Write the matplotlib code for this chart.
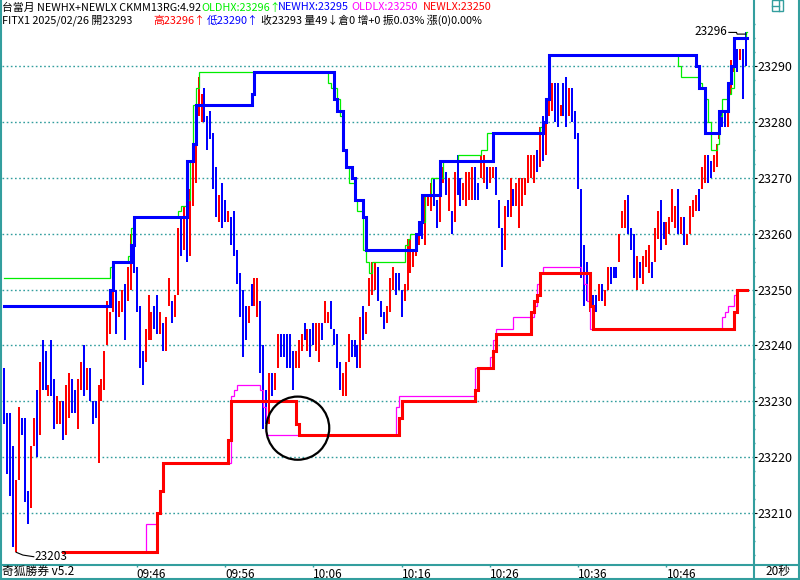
import matplotlib
matplotlib.use("Agg")
import matplotlib.pyplot as plt
from matplotlib.patches import Ellipse, Rectangle
from matplotlib.lines import Line2D

plt.rcParams['font.family'] = ['Noto Sans CJK TC', 'DejaVu Sans']

# 20秒K, index 0 = 09:31:00
bar_hi = [23236, 23228, 23228, 23222, 23216, 23229, 23227, 23227, 23214, 23222,
          23227, 23232, 23237, 23241, 23239, 23233, 23241, 23234, 23231, 23230,
          23230, 23233, 23235, 23234, 23232, 23234, 23237, 23240, 23236, 23236,
          23230, 23230, 23233, 23234, 23239, 23248, 23246, 23252, 23250, 23248,
          23250, 23251, 23254, 23260, 23260, 23254, 23247, 23239, 23243, 23249,
          23246, 23247, 23249, 23246, 23244, 23245, 23252, 23248, 23249, 23261,
          23263, 23265, 23263, 23268, 23274, 23280, 23288, 23285, 23286, 23281,
          23282, 23278, 23272, 23267, 23269, 23266, 23264, 23263, 23264, 23257,
          23253, 23250, 23247, 23247, 23251, 23252, 23252, 23248, 23240, 23232,
          23235, 23235, 23235, 23242, 23242, 23242, 23242, 23242, 23239, 23239,
          23241, 23242, 23244, 23243, 23243, 23244, 23244, 23244, 23244, 23248,
          23246, 23248, 23243, 23242, 23237, 23235, 23237, 23242, 23241, 23241,
          23240, 23245, 23247, 23246, 23252, 23255, 23255, 23254, 23248, 23246,
          23247, 23252, 23254, 23253, 23253, 23250, 23251, 23259, 23259, 23257,
          23260, 23262, 23263, 23267, 23267, 23269, 23270, 23266, 23271, 23272,
          23271, 23270, 23264, 23271, 23274, 23270, 23269, 23271, 23271, 23272,
          23272, 23269, 23274, 23274, 23272, 23272, 23272, 23272, 23266, 23261,
          23265, 23266, 23270, 23268, 23269, 23270, 23270, 23270, 23274, 23274,
          23274, 23275, 23279, 23281, 23284, 23289, 23287, 23287, 23287, 23283,
          23287, 23288, 23286, 23286, 23282, 23278, 23268, 23258, 23255, 23252,
          23249, 23249, 23251, 23251, 23250, 23254, 23254, 23254, 23254, 23260,
          23264, 23266, 23267, 23261, 23260, 23256, 23255, 23256, 23257, 23258,
          23255, 23261, 23264, 23266, 23262, 23262, 23263, 23268, 23265, 23268,
          23263, 23263, 23260, 23265, 23266, 23267, 23268, 23272, 23274, 23274,
          23273, 23274, 23276, 23281, 23282, 23282, 23284, 23291, 23293, 23293,
          23293, 23293, 23296]
bar_lo = [23226, 23217, 23213, 23204, 23203, 23216, 23224, 23212, 23208, 23211,
          23222, 23220, 23224, 23232, 23232, 23231, 23231, 23225, 23226, 23226,
          23223, 23224, 23227, 23228, 23228, 23225, 23232, 23231, 23232, 23230,
          23226, 23227, 23219, 23230, 23232, 23240, 23242, 23246, 23242, 23245,
          23246, 23241, 23248, 23250, 23253, 23246, 23236, 23233, 23237, 23241,
          23241, 23243, 23242, 23242, 23239, 23239, 23247, 23244, 23245, 23249,
          23256, 23257, 23255, 23256, 23265, 23269, 23281, 23280, 23280, 23275,
          23277, 23268, 23263, 23262, 23261, 23262, 23262, 23258, 23256, 23251,
          23245, 23238, 23241, 23244, 23247, 23247, 23245, 23235, 23225, 23226,
          23226, 23231, 23232, 23236, 23238, 23238, 23236, 23236, 23232, 23236,
          23236, 23239, 23241, 23239, 23238, 23240, 23239, 23237, 23241, 23244,
          23244, 23243, 23240, 23236, 23232, 23231, 23231, 23237, 23238, 23238,
          23236, 23236, 23241, 23242, 23247, 23249, 23250, 23248, 23245, 23243,
          23244, 23246, 23250, 23249, 23250, 23245, 23248, 23250, 23253, 23254,
          23256, 23258, 23259, 23258, 23265, 23264, 23265, 23261, 23262, 23269,
          23267, 23264, 23260, 23262, 23267, 23265, 23266, 23265, 23266, 23266,
          23266, 23266, 23270, 23269, 23268, 23269, 23270, 23267, 23261, 23254,
          23257, 23263, 23263, 23265, 23265, 23261, 23265, 23267, 23269, 23270,
          23269, 23271, 23272, 23273, 23274, 23281, 23282, 23280, 23279, 23281,
          23281, 23279, 23281, 23280, 23277, 23268, 23252, 23247, 23248, 23246,
          23247, 23246, 23248, 23248, 23247, 23250, 23251, 23252, 23252, 23255,
          23261, 23261, 23260, 23257, 23252, 23250, 23252, 23251, 23254, 23253,
          23252, 23255, 23259, 23257, 23259, 23258, 23260, 23262, 23261, 23260,
          23260, 23258, 23258, 23260, 23263, 23264, 23264, 23268, 23269, 23269,
          23270, 23271, 23272, 23277, 23279, 23279, 23279, 23285, 23289, 23289,
          23291, 23284, 23290]
# 1 = 紅K, 0 = 藍K
bar_up = [0, 0, 0, 0, 1, 1, 0, 0, 0, 1,
          1, 0, 1, 0, 0, 1, 0, 0, 1, 1,
          0, 1, 1, 0, 0, 1, 1, 0, 1, 0,
          0, 0, 1, 1, 1, 1, 1, 1, 0, 1,
          1, 0, 1, 1, 0, 0, 0, 0, 1, 1,
          1, 0, 0, 1, 0, 1, 1, 0, 1, 1,
          0, 1, 0, 1, 1, 1, 1, 1, 0, 0,
          0, 0, 0, 1, 0, 0, 1, 0, 0, 0,
          0, 0, 0, 1, 0, 1, 1, 0, 0, 0,
          1, 0, 1, 1, 0, 0, 0, 0, 0, 1,
          1, 1, 0, 1, 0, 0, 1, 1, 0, 1,
          1, 0, 0, 0, 0, 1, 1, 1, 0, 0,
          0, 1, 0, 1, 1, 1, 1, 0, 0, 0,
          1, 1, 1, 0, 0, 0, 1, 1, 1, 1,
          1, 1, 0, 1, 1, 1, 0, 0, 1, 1,
          0, 1, 0, 1, 0, 0, 1, 1, 1, 1,
          0, 0, 1, 1, 0, 1, 1, 0, 0, 0,
          1, 0, 1, 0, 1, 1, 1, 1, 1, 1,
          1, 0, 1, 0, 1, 1, 1, 0, 0, 1,
          0, 0, 1, 0, 0, 0, 0, 0, 0, 1,
          0, 0, 1, 0, 1, 1, 0, 0, 0, 1,
          1, 1, 0, 0, 0, 1, 0, 1, 1, 1,
          0, 1, 1, 0, 0, 1, 1, 1, 1, 0,
          1, 0, 1, 1, 1, 1, 0, 1, 1, 0,
          0, 1, 1, 1, 0, 0, 1, 1, 1, 0,
          1, 0, 0]

# 階梯線: 起始K棒序號 / 數值
newhx_at = [0, 36, 37, 43, 44, 62, 64, 65, 84, 85, 112, 113, 115, 116, 118, 119, 122,
            123, 140, 141, 142, 148, 166, 183, 184, 185, 235, 236, 238, 243, 246, 247, 248]
newhx_val = [23247, 23250, 23255, 23258, 23263, 23273, 23276, 23283, 23285, 23289, 23284,
             23282, 23275, 23272, 23270, 23266, 23263, 23257, 23260, 23262, 23267, 23273,
             23278, 23280, 23284, 23292, 23290, 23286, 23278, 23282, 23287, 23290, 23295]
oldhx_at = [0, 36, 37, 42, 43, 44, 59, 60, 62, 63, 64, 65, 66, 110, 111, 113, 114, 115,
            116, 117, 119, 120, 122, 123, 124, 125, 136, 137, 138, 141, 143, 145, 149, 154,
            162, 164, 182, 183, 184, 185, 229, 230, 236, 237, 238, 239, 240, 242, 243, 244,
            246, 247, 248, 252]
oldhx_val = [23252, 23254, 23255, 23256, 23261, 23263, 23264, 23265, 23266, 23273, 23283,
             23286, 23289, 23287, 23286, 23284, 23281, 23275, 23272, 23269, 23266, 23264,
             23257, 23255, 23253, 23255, 23258, 23259, 23260, 23262, 23267, 23270, 23273,
             23274, 23275, 23278, 23279, 23280, 23284, 23292, 23290, 23288, 23287, 23286,
             23284, 23280, 23275, 23276, 23281, 23284, 23285, 23286, 23295, 23296]
newlx_at = [20, 52, 53, 54, 76, 77, 99, 100, 134, 135, 160, 161, 166, 167, 179, 180, 181,
            182, 199, 200, 248, 249]
newlx_val = [23203, 23210, 23214, 23219, 23223, 23230, 23226, 23224, 23227, 23230, 23232,
             23236, 23239, 23242, 23246, 23248, 23249, 23253, 23247, 23243, 23246, 23250]
oldlx_at = [20, 48, 52, 53, 54, 77, 78, 79, 87, 88, 89, 133, 134, 160, 165, 166, 167, 173,
            180, 181, 182, 183, 196, 197, 198, 199, 244, 245, 246, 248, 249]
oldlx_val = [23203, 23208, 23210, 23214, 23219, 23231, 23232, 23233, 23232, 23229, 23224,
             23229, 23231, 23236, 23238, 23241, 23243, 23245, 23247, 23251, 23253, 23254,
             23253, 23251, 23248, 23243, 23245, 23246, 23247, 23249, 23250]

tick_pos = [45, 75, 105, 135, 165, 195, 225]
tick_lab = ['09:46', '09:56', '10:06', '10:16', '10:26', '10:36', '10:46']
price_ticks = [23210, 23220, 23230, 23240, 23250, 23260, 23270, 23280, 23290]

header1 = [("台當月 NEWHX+NEWLX CKMM13RG:4.92", 2, 'black'),
           ("OLDHX:23296↑", 201, '#00ee00'),
           ("NEWHX:23295", 278, '#0000ff'),
           ("OLDLX:23250", 351, '#ff00ff'),
           ("NEWLX:23250", 423, '#ff0000')]
header2 = [("FITX1 2025/02/26 開23293", 2, 'black'),
           ("高23296↑", 153, '#ff0000'),
           ("低23290↑", 207, '#0000ff'),
           ("收23293 量49↓倉0 增+0 振0.03% 漲(0)0.00%", 261, 'black')]

TEAL = '#339e9e'
W, H = 800, 580


def fx(px):
    return px / W


def fy(py):
    return 1 - py / H


fig = plt.figure(figsize=(8, 5.8), dpi=100, facecolor='white')
ax = fig.add_axes([fx(2), fy(564), fx(753) - fx(2), fy(0) - fy(564)])
ax.set_xlim(-0.8, 254.4)
ax.set_ylim(23200.9, 23301.8)
for s in ax.spines.values():
    s.set_visible(False)

# 格線 (點線)
for p in price_ticks:
    ax.axhline(p, color=TEAL, lw=1.0, ls=(0, (1.2, 1.8)), zorder=1)

# K棒
n = len(bar_hi)
cols = ['#ff0000' if u else '#0000ff' for u in bar_up]
ax.vlines(range(n), bar_lo, bar_hi, colors=cols, lw=1.3, zorder=2, antialiased=False)

x_end = n - 1 + 0.3


def step_line(at, val, color, lw, z):
    ax.step(at + [x_end], val + [val[-1]], where='post', color=color, lw=lw,
            zorder=z, solid_joinstyle='miter')


step_line(oldhx_at, oldhx_val, '#00ee00', 0.9, 3)
step_line(oldlx_at, oldlx_val, '#ff00ff', 0.9, 3)
step_line(newhx_at, newhx_val, '#0000ff', 2.2, 4)
step_line(newlx_at, newlx_val, '#ff0000', 2.2, 4)

# 最高 / 最低 標示
lo_v = min(bar_lo)
lo_i = bar_lo.index(lo_v)
ax.plot([lo_i, lo_i + 2.3, lo_i + 6.0], [lo_v, lo_v - 0.5, lo_v - 0.8], color='black', lw=0.8, zorder=5)
ax.text(lo_i + 6.2, lo_v - 0.7, str(lo_v), fontsize=8.5, va='center', ha='left', zorder=5)
hi_v = max(bar_hi)
hi_i = bar_hi.index(hi_v)
ax.plot([hi_i - 5.8, hi_i - 3.2, hi_i - 3.0, hi_i], [hi_v, hi_v, hi_v - 0.3, hi_v - 0.3],
        color='black', lw=0.8, zorder=5)
ax.text(hi_i - 6.3, hi_v + 0.1, str(hi_v), fontsize=8.5, va='center', ha='right', zorder=5)

# 圈選
circle_center = (99.7, 23225.2)
ax.add_patch(Ellipse(circle_center, width=21.4, height=11.3, fill=False, ec='black', lw=1.6, zorder=6))

# 右側價格軸
ax.yaxis.tick_right()
ax.set_yticks(price_ticks)
ax.set_yticklabels([str(p) for p in price_ticks])
minor = [23202.5 + 2.5 * k for k in range(40) if (23202.5 + 2.5 * k) % 10 != 0]
ax.set_yticks(minor, minor=True)
ax.tick_params(axis='y', which='major', direction='out', length=3, width=0.8, color='black',
               pad=0.5, labelsize=9)
ax.tick_params(axis='y', which='minor', direction='out', length=1.5, width=1, color=TEAL)

# 時間軸
ax.set_xticks(tick_pos)
ax.set_xticklabels(tick_lab, ha='left')
ax.tick_params(axis='x', direction='out', length=2.5, width=1, color=TEAL, pad=0.3, labelsize=8.5)

# 外框
for xs, ys in [((1, 1), (0, 580)), ((798.5, 798.5), (0, 580)), ((753.5, 753.5), (0, 580)),
               ((0, 800), (564.5, 564.5)), ((0, 800), (578.5, 578.5))]:
    fig.add_artist(Line2D([fx(xs[0]), fx(xs[1])], [fy(ys[0]), fy(ys[1])], color=TEAL, lw=1.5))

# 右上角圖示
fig.add_artist(Rectangle((fx(772), fy(10.5)), fx(11), 10.5 / H, fill=False, ec=TEAL, lw=1))
fig.add_artist(Line2D([fx(778.5), fx(778.5)], [fy(0), fy(10.5)], color=TEAL, lw=1))
fig.add_artist(Line2D([fx(772), fx(778.5)], [fy(5.5), fy(5.5)], color=TEAL, lw=1))

# 標題列
for s, x, c in header1:
    fig.text(fx(x), fy(7.5), s, color=c, fontsize=7.8, va='center', ha='left')
for s, x, c in header2:
    fig.text(fx(x), fy(20.5), s, color=c, fontsize=7.8, va='center', ha='left')

fig.text(fx(2), fy(571.5), "奇狐勝券 v5.2", fontsize=8.5, va='center', ha='left')
fig.text(fx(765), fy(571.5), "20秒", fontsize=8.5, va='center', ha='left')

fig.savefig("out.png", dpi=100, facecolor='white')
